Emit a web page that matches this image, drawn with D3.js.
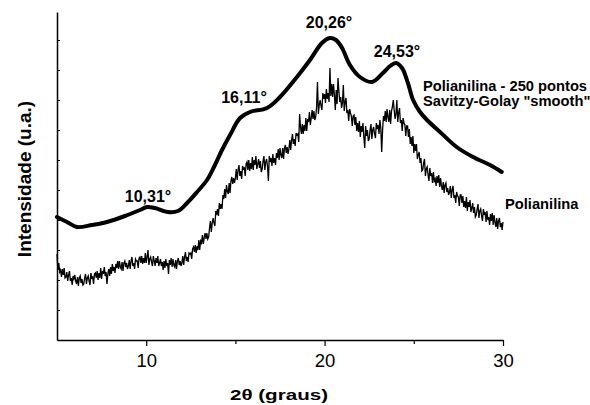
<!DOCTYPE html>
<html>
<head>
<meta charset="utf-8">
<script src="https://cdn.jsdelivr.net/npm/d3@7"></script>
<style>
  html, body { margin: 0; padding: 0; background: #fff; }
  svg { display: block; }
  text { font-family: "Liberation Sans", Arial, sans-serif; fill: #000; }
</style>
</head>
<body>
<svg id="chart" width="590" height="405"></svg>
<script>
// ---- data ----
const xTicksMajor = [10, 20, 30];
const xTicksMinor = [15, 25];
const yTicks = [30, 60, 90, 120, 150, 180, 210, 240, 270, 300];

// Smoothed curve (Savitzy-Golay, 250 pontos): 2θ and intensity (u.a.)
const smoothX = [5.0, 5.56, 6.12, 6.96, 7.8, 8.81, 9.65, 10.04, 10.49, 11.22, 11.78, 12.29, 12.85, 13.41, 13.8, 14.25, 14.7, 15.26, 15.82, 16.77, 17.5, 18.45, 19.18, 19.85, 20.3, 20.64, 20.98, 21.42, 21.98, 22.66, 23.27, 23.67, 24.0, 24.34, 24.67, 24.96, 25.35, 25.74, 26.47, 27.4, 28.32, 29.27, 29.93];
const smoothY = [123, 118, 113, 115, 118, 124, 130, 133, 132, 128, 129, 137, 148, 160, 173, 190, 205, 222, 228, 232, 243, 263, 280, 297, 302, 300, 292, 275, 263, 258, 267, 274, 277, 272, 257, 240, 228, 220, 208, 193, 183, 175, 168];

// Raw pattern (Polianilina): 2θ from 5 to 30 in steps of 0.05
const rawStart = 5.0;
const rawStep = 0.05;
const rawY = [
  86,70,77,68,70,63,71,65,72,62,
  63,68,59,65,69,59,62,55,64,61,
  65,59,56,63,54,62,64,57,61,55,
  56,62,66,56,62,64,59,55,67,62,
  63,56,66,67,62,69,60,67,62,72,
  61,69,66,73,64,68,56,66,71,64,
  73,66,76,69,73,67,76,72,79,71,
  79,73,71,78,69,77,79,73,77,71,
  74,80,71,79,83,74,77,71,81,79,
  79,72,82,83,77,84,76,82,77,87,
  77,83,90,75,81,83,78,74,84,79,
  74,82,77,84,74,77,81,74,78,70,
  79,72,81,74,77,66,80,75,82,73,
  81,75,73,80,71,79,82,75,79,74,
  77,84,75,83,88,79,83,78,87,86,
  87,81,91,93,88,95,87,94,90,100,
  90,99,97,105,96,102,107,101,107,101,
  103,112,119,108,117,122,117,114,129,125,
  131,124,137,131,136,131,145,141,151,142,
  155,149,146,157,147,159,163,156,162,157,
  162,171,160,170,175,164,169,161,174,171,
  172,164,176,178,170,180,169,177,171,183,
  170,180,175,184,171,176,181,172,179,168,
  171,179,184,170,178,181,174,159,184,178,
  182,174,186,177,182,175,187,182,191,180,
  192,185,182,192,181,192,195,187,193,186,
  191,200,190,200,206,196,201,194,207,205,
  206,198,226,213,206,216,206,215,209,222,
  209,221,218,228,215,222,230,221,229,220,
  223,233,258,226,235,240,234,230,247,241,
  246,237,251,241,247,238,272,244,256,243,
  256,245,230,250,236,262,249,238,243,232,
  237,255,229,238,242,227,230,219,231,227,
  224,214,224,225,215,223,209,217,208,219,
  203,214,208,217,203,192,214,204,210,199,
  201,210,216,201,210,213,206,202,217,211,
  215,206,220,212,188,210,224,219,229,218,
  231,223,218,230,216,229,233,240,230,221,
  226,240,218,227,232,217,220,209,222,217,
  215,204,214,214,203,211,196,203,194,204,
  187,196,189,196,181,185,188,177,182,169,
  170,177,181,164,171,173,165,159,172,164,
  167,157,168,159,161,154,164,157,165,153,
  162,154,150,158,147,155,157,148,152,145,
  148,154,142,150,154,142,145,137,148,144,
  143,134,145,145,137,144,133,139,132,143,
  129,138,133,140,128,132,137,127,133,123,
  125,131,136,122,129,131,124,119,131,125,
  128,118,129,120,123,115,126,119,127,115,
  125,118,113,122,111,119,122,113,117,110,
  118
];

const peakLabels = ["10,31°", "16,11°", "20,26°", "24,53°"];
const seriesLabels = ["Polianilina - 250 pontos", "Savitzy-Golay \"smooth\"", "Polianilina"];

// ---- layout ----
const svg = d3.select("#chart");
const x = d3.scaleLinear().domain([5, 30]).range([57, 503]);
const y = d3.scaleLinear().domain([0, 328]).range([340, 12]);

const smooth = smoothX.map((d, i) => [d, smoothY[i]]);
const raw = rawY.map((v, i) => [rawStart + i * rawStep, v]);

// raw line
svg.append("path")
  .datum(raw)
  .attr("fill", "none")
  .attr("stroke", "#000")
  .attr("stroke-width", 1.3)
  .attr("stroke-linejoin", "miter")
  .attr("d", d3.line().x(d => x(d[0])).y(d => y(d[1])));

// smoothed line
svg.append("path")
  .datum(smooth)
  .attr("fill", "none")
  .attr("stroke", "#000")
  .attr("stroke-width", 4)
  .attr("stroke-linecap", "round")
  .attr("d", d3.line().curve(d3.curveCatmullRom.alpha(0.5)).x(d => x(d[0])).y(d => y(d[1])));

// x axis
const gx = svg.append("g").attr("transform", "translate(0,340)");
gx.call(d3.axisBottom(x).tickValues(xTicksMajor).tickSize(6).tickSizeOuter(0).tickFormat(d3.format("d")));
gx.append("g").call(d3.axisBottom(x).tickValues(xTicksMinor).tickSize(4).tickSizeOuter(0).tickFormat(""))
  .select(".domain").remove();
gx.selectAll(".domain").attr("stroke", "#000").attr("stroke-width", 1.5);
gx.selectAll(".tick line").attr("stroke", "#000").attr("stroke-width", 1.2);
gx.selectAll(".tick text")
  .attr("font-family", "Liberation Sans, Arial, sans-serif")
  .attr("font-size", 18.5)
  .attr("fill", "#000")
  .attr("dy", null)
  .attr("y", 27);

// y axis (inward ticks, no labels)
const gy = svg.append("g").attr("transform", "translate(57,0)");
gy.call(d3.axisLeft(y).tickValues(yTicks).tickSize(-3).tickSizeOuter(0).tickFormat(""));
gy.selectAll(".domain").attr("stroke", "#000").attr("stroke-width", 1.5);
gy.selectAll(".tick line").attr("stroke", "#000").attr("stroke-width", 1);

// axis titles
svg.append("text")
  .attr("x", 279).attr("y", 400)
  .attr("text-anchor", "middle")
  .attr("font-family", "DejaVu Sans, Verdana, sans-serif")
  .attr("font-weight", "bold")
  .attr("font-size", 15)
  .attr("textLength", 98)
  .attr("lengthAdjust", "spacingAndGlyphs")
  .text("2θ (graus)");

svg.append("text")
  .attr("transform", "translate(31,179) rotate(-90)")
  .attr("text-anchor", "middle")
  .attr("font-weight", "bold")
  .attr("font-size", 19)
  .text("Intensidade (u.a.)");

// peak labels
const peakPos = [[148, 202], [244, 103], [329, 28], [397, 57]];
svg.selectAll("text.peak")
  .data(peakLabels)
  .join("text")
  .attr("class", "peak")
  .attr("x", (d, i) => peakPos[i][0])
  .attr("y", (d, i) => peakPos[i][1])
  .attr("text-anchor", "middle")
  .attr("font-weight", "bold")
  .attr("font-size", 16)
  .text(d => d);

// series labels
const seriesPos = [[423, 91], [423, 105.5], [505, 208.5]];
svg.selectAll("text.series")
  .data(seriesLabels)
  .join("text")
  .attr("class", "series")
  .attr("x", (d, i) => seriesPos[i][0])
  .attr("y", (d, i) => seriesPos[i][1])
  .attr("font-weight", "bold")
  .attr("font-size", 14.7)
  .text(d => d);
</script>
</body>
</html>
